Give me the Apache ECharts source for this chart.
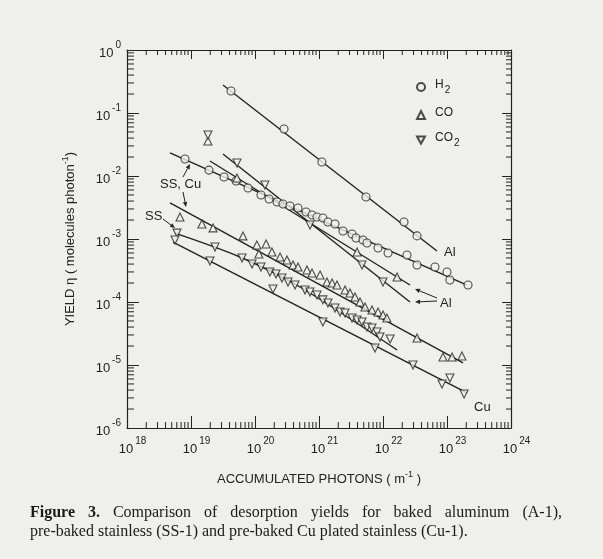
<!DOCTYPE html>
<html>
<head>
<meta charset="utf-8">
<title>Desorption yields</title>
<script src="https://cdn.jsdelivr.net/npm/echarts@6/dist/echarts.min.js"></script>
<style>
  html, body { margin: 0; padding: 0; background: #efefec; }
  #wrap { position: relative; width: 603px; height: 559px; }
  #chart { width: 603px; height: 559px; }
  .cap { position: absolute; left: 30px; width: 532px; font: 16px 'Liberation Serif', 'Times New Roman', serif;
         color: #1a1a1a; line-height: 18px; white-space: nowrap; }
  .cap.first { text-align: justify; text-align-last: justify; white-space: normal; }
</style>
</head>
<body>
<div id="wrap">
  <div id="chart"></div>
  <div class="cap first" style="top:503px"><b>Figure 3.</b> Comparison of desorption yields for baked aluminum (A-1),</div>
  <div class="cap" style="top:522px">pre-baked stainless (SS-1) and pre-baked Cu plated stainless (Cu-1).</div>
</div>
<script>
// accumulated photons (m^-1) vs yield (molecules/photon)
var h2AlFit = [[3.16e19, 0.278], [6.98e22, 6.45e-4]];
var h2AlPts = [[4.22e19, 0.223], [2.84e20, 5.57e-2], [1.11e21, 1.67e-2], [5.42e21, 4.64e-3],
  [2.13e22, 1.86e-3], [3.40e22, 1.12e-3]];

var h2SsFit = [[4.70e18, 2.32e-2], [2.05e23, 1.86e-4]];
var h2SsPts = [[8.06e18, 1.86e-2], [1.91e19, 1.24e-2], [3.28e19, 9.64e-3], [5.05e19, 8.34e-3],
  [7.78e19, 6.45e-3], [1.24e20, 4.99e-3], [1.66e20, 4.32e-3], [2.21e20, 3.87e-3], [2.74e20, 3.60e-3],
  [3.52e20, 3.34e-3], [4.70e20, 3.10e-3], [6.27e20, 2.69e-3], [7.78e20, 2.40e-3], [9.31e20, 2.23e-3],
  [1.15e21, 2.15e-3], [1.38e21, 1.86e-3], [1.78e21, 1.73e-3], [2.37e21, 1.34e-3], [3.28e21, 1.20e-3],
  [3.79e21, 1.04e-3], [4.87e21, 9.64e-4], [5.62e21, 8.65e-4], [8.36e21, 7.20e-4], [1.20e22, 6.00e-4],
  [2.37e22, 5.57e-4], [3.40e22, 3.86e-4], [6.49e22, 3.60e-4], [1.00e23, 2.99e-4], [1.11e23, 2.23e-4],
  [2.13e23, 1.86e-4]];

var coAlFit = [[1.98e19, 1.73e-2], [2.64e22, 1.86e-4]];
var coAlPts = [[1.84e19, 3.60e-2], [5.23e19, 9.29e-3], [3.93e21, 6.22e-4], [1.66e22, 2.49e-4]];

var co2AlFit = [[3.16e19, 2.23e-2], [2.64e22, 1.00e-4]];
var co2AlPts = [[1.84e19, 4.48e-2], [5.23e19, 1.61e-2], [1.43e20, 7.20e-3], [7.23e20, 1.67e-3],
  [4.70e21, 3.86e-4], [1.00e22, 2.08e-4]];

var coSsFit = [[4.70e18, 3.73e-3], [1.78e23, 1.08e-5]];
var coSsPts = [[6.73e18, 2.23e-3], [1.48e19, 1.73e-3], [2.21e19, 1.50e-3], [6.49e19, 1.12e-3],
  [1.07e20, 8.03e-4], [1.49e20, 8.34e-4], [1.15e20, 5.78e-4], [1.84e20, 6.22e-4], [2.46e20, 5.18e-4],
  [3.16e20, 4.64e-4], [3.93e20, 3.86e-4], [4.70e20, 3.60e-4], [6.49e20, 3.22e-4], [7.78e20, 2.89e-4],
  [1.04e21, 2.68e-4], [1.33e21, 2.08e-4], [1.60e21, 2.00e-4], [1.91e21, 1.86e-4], [2.55e21, 1.55e-4],
  [3.05e21, 1.39e-4], [3.65e21, 1.20e-4], [4.37e21, 1.00e-4], [5.23e21, 8.34e-5], [6.73e21, 7.46e-5],
  [8.36e21, 6.94e-5], [1.00e22, 6.22e-5], [1.15e22, 5.57e-5], [3.40e22, 2.68e-5], [8.66e22, 1.34e-5],
  [1.20e23, 1.34e-5], [1.71e23, 1.39e-5]];

var co2SsFit = [[5.62e18, 1.24e-3], [5.83e19, 5.18e-4], [5.05e20, 1.73e-4], [1.66e22, 1.73e-5]];
var co2SsPts = [[6.04e18, 1.24e-3], [2.37e19, 7.46e-4], [6.27e19, 4.99e-4], [8.98e19, 4.01e-4],
  [1.24e20, 3.60e-4], [1.71e20, 2.99e-4], [2.13e20, 2.78e-4], [2.64e20, 2.40e-4], [3.28e20, 2.08e-4],
  [4.22e20, 1.86e-4], [6.04e20, 1.55e-4], [7.23e20, 1.44e-4], [9.31e20, 1.29e-4], [1.15e21, 1.08e-4],
  [1.38e21, 9.64e-5], [1.78e21, 8.03e-5], [2.13e21, 6.94e-5], [2.55e21, 6.69e-5], [3.28e21, 5.57e-5],
  [3.93e21, 5.18e-5], [4.70e21, 4.82e-5], [5.62e21, 4.01e-5], [6.73e21, 3.86e-5], [8.05e21, 3.34e-5],
  [8.98e21, 2.78e-5], [1.29e22, 2.59e-5]];

var co2CuFit = [[5.23e18, 8.96e-4], [2.05e23, 3.60e-6]];
var co2CuPts = [[5.62e18, 9.64e-4], [1.98e19, 4.48e-4], [1.91e20, 1.61e-4], [1.15e21, 4.82e-5],
  [7.50e21, 1.86e-5], [2.94e22, 1.00e-5], [8.36e22, 4.99e-6], [1.11e23, 6.22e-6], [1.85e23, 3.47e-6]];

var xExp = [18, 24];
var yExp = [-6, 0];

// log minor ticks 2..9 in each decade
var xMinor = [], yMinor = [];
for (var e = xExp[0]; e < xExp[1]; e++) {
  for (var m = 2; m <= 9; m++) xMinor.push([m * Math.pow(10, e), 1e-3]);
}
for (var e2 = yExp[0]; e2 < yExp[1]; e2++) {
  for (var m2 = 2; m2 <= 9; m2++) yMinor.push([1e20, m2 * Math.pow(10, e2)]);
}

var BG = '#efefec';
var INK = '#222';
var SANS = "'Liberation Sans Narrow', 'Liberation Sans', Arial, sans-serif";
var DOWN = 'path://M0,0L10,0L5,9Z';

var chart = echarts.init(document.getElementById('chart'));

function expOf(v) { return Math.round(Math.log(v) / Math.LN10); }

function fitLine(data, smooth) {
  return {
    type: 'line', data: data, showSymbol: false, silent: true, z: 2,
    smooth: smooth || false,
    lineStyle: { color: INK, width: 1.4 }
  };
}
function pts(name, data, symbol) {
  return {
    name: name, type: 'scatter', data: data, symbol: symbol, symbolSize: 8, z: 3, silent: true,
    itemStyle: { color: BG, borderColor: INK, borderWidth: 1.1 }
  };
}

function xTicks(params, api) {
  var cs = params.coordSys;
  var x = api.coord([api.value(0), api.value(1)])[0];
  var b = cs.y + cs.height, t = cs.y;
  return {
    type: 'group', children: [
      { type: 'line', shape: { x1: x, y1: b, x2: x, y2: b - 6 }, style: { stroke: INK, lineWidth: 1 } },
      { type: 'line', shape: { x1: x, y1: t, x2: x, y2: t + 5 }, style: { stroke: INK, lineWidth: 1 } }
    ]
  };
}
function yTicks(params, api) {
  var cs = params.coordSys;
  var y = api.coord([api.value(0), api.value(1)])[1];
  var l = cs.x, r = cs.x + cs.width;
  return {
    type: 'group', children: [
      { type: 'line', shape: { x1: l, y1: y, x2: l + 7, y2: y }, style: { stroke: INK, lineWidth: 1 } },
      { type: 'line', shape: { x1: r, y1: y, x2: r - 5, y2: y }, style: { stroke: INK, lineWidth: 1 } }
    ]
  };
}

function arrow(x1, y1, x2, y2) {
  var a = Math.atan2(y2 - y1, x2 - x1), h = 5, w = 2.2;
  var bx = x2 - h * Math.cos(a), by = y2 - h * Math.sin(a);
  return [
    { type: 'line', shape: { x1: x1, y1: y1, x2: bx, y2: by }, style: { stroke: INK, lineWidth: 1 } },
    { type: 'polygon', shape: { points: [[x2, y2], [bx + w * Math.sin(a), by - w * Math.cos(a)],
      [bx - w * Math.sin(a), by + w * Math.cos(a)]] }, style: { fill: INK } }
  ];
}
function note(text, x, y) {
  return { type: 'text', x: x, y: y, style: { text: text, font: '13px ' + SANS, fill: INK, verticalAlign: 'middle' } };
}

var tickRich = {
  p: { fontSize: 10, color: 'transparent', lineHeight: 20, verticalAlign: 'top', fontFamily: SANS },
  b: { fontSize: 13, color: INK, lineHeight: 20, verticalAlign: 'bottom', fontFamily: SANS },
  s: { fontSize: 10, color: INK, lineHeight: 20, verticalAlign: 'top', fontFamily: SANS, padding: [0, 0, 0, 2] }
};
var nameRich = {
  a: { fontSize: 13, color: INK, fontFamily: SANS, lineHeight: 16, verticalAlign: 'bottom' },
  s: { fontSize: 9, color: INK, fontFamily: SANS, lineHeight: 16, verticalAlign: 'top' }
};
var commonAxis = { type: 'log', logBase: 10, splitLine: { show: false }, minorTick: { show: false } };

var option = {
  backgroundColor: BG,
  animation: false,
  grid: { left: 127, top: 50, width: 384, height: 378, outerBoundsMode: 'none' },
  legend: {
    data: [{ name: 'H2', icon: 'circle' }, { name: 'CO', icon: 'triangle' }, { name: 'CO2', icon: DOWN }],
    orient: 'vertical', left: 416, top: 79, padding: 0, itemWidth: 8, itemHeight: 8, itemGap: 12,
    selectedMode: false,
    formatter: function (n) {
      if (n === 'H2') return '{t|H}{u|2}';
      if (n === 'CO2') return '{t|CO}{u|2}';
      return '{t|CO}';
    },
    textStyle: {
      rich: {
        t: { fontSize: 12, color: INK, fontFamily: SANS, lineHeight: 16, verticalAlign: 'top', padding: [0, 1, 0, 5] },
        u: { fontSize: 10, color: INK, fontFamily: SANS, lineHeight: 16, verticalAlign: 'bottom' }
      }
    }
  },
  xAxis: [
    Object.assign({}, commonAxis, {
      position: 'bottom', min: Math.pow(10, xExp[0]), max: Math.pow(10, xExp[1]), interval: 1,
      axisLine: { lineStyle: { color: INK, width: 1.2 } },
      axisTick: { inside: true, length: 12, lineStyle: { color: INK } },
      axisLabel: {
        margin: 8, rich: tickRich,
        formatter: function (v) { var e = expOf(v); return '{p|' + e + '}{b|10}{s|' + e + '}'; }
      },
      name: '{a|ACCUMULATED PHOTONS ( m}{s|-1}{a| )}', nameLocation: 'middle', nameGap: 42,
      nameTextStyle: { rich: nameRich }
    }),
    Object.assign({}, commonAxis, {
      position: 'top', min: Math.pow(10, xExp[0]), max: Math.pow(10, xExp[1]), interval: 1,
      axisLine: { lineStyle: { color: INK, width: 1.2 } },
      axisTick: { inside: true, length: 9, lineStyle: { color: INK } },
      axisLabel: { show: false }
    })
  ],
  yAxis: [
    Object.assign({}, commonAxis, {
      position: 'left', min: Math.pow(10, yExp[0]), max: Math.pow(10, yExp[1]), interval: 1,
      axisLine: { lineStyle: { color: INK, width: 1.2 } },
      axisTick: { inside: true, length: 12, lineStyle: { color: INK } },
      axisLabel: {
        margin: 6, rich: tickRich,
        formatter: function (v) { return '{b|10}{s|' + expOf(v) + '}'; }
      },
      name: '{a|YIELD η ( molecules photon}{s|-1}{a|)}', nameLocation: 'middle', nameGap: 50, nameRotate: 90,
      nameTextStyle: { rich: nameRich }
    }),
    Object.assign({}, commonAxis, {
      position: 'right', min: Math.pow(10, yExp[0]), max: Math.pow(10, yExp[1]), interval: 1,
      axisLine: { lineStyle: { color: INK, width: 1.2 } },
      axisTick: { inside: true, length: 9, lineStyle: { color: INK } },
      axisLabel: { show: false }
    })
  ],
  series: [
    { type: 'custom', data: xMinor, renderItem: xTicks, silent: true, z: 1 },
    { type: 'custom', data: yMinor, renderItem: yTicks, silent: true, z: 1 },
    fitLine(h2AlFit), fitLine(h2SsFit), fitLine(coAlFit), fitLine(co2AlFit),
    fitLine(coSsFit), fitLine(co2SsFit, 0.3), fitLine(co2CuFit),
    pts('H2', h2AlPts, 'circle'), pts('H2', h2SsPts, 'circle'),
    pts('CO', coAlPts, 'triangle'), pts('CO', coSsPts, 'triangle'),
    pts('CO2', co2AlPts, DOWN), pts('CO2', co2SsPts, DOWN), pts('CO2', co2CuPts, DOWN)
  ],
  graphic: [
    note('SS, Cu', 160, 184),
    note('SS', 145, 216),
    note('Al', 444, 252),
    note('Al', 440, 303),
    note('Cu', 474, 407)
  ].concat(arrow(183, 177, 190, 164), arrow(183, 192, 186, 207), arrow(163, 219, 175, 228),
    arrow(437, 298, 415, 289), arrow(437, 301, 415, 302))
};

chart.setOption(option);
</script>
</body>
</html>
